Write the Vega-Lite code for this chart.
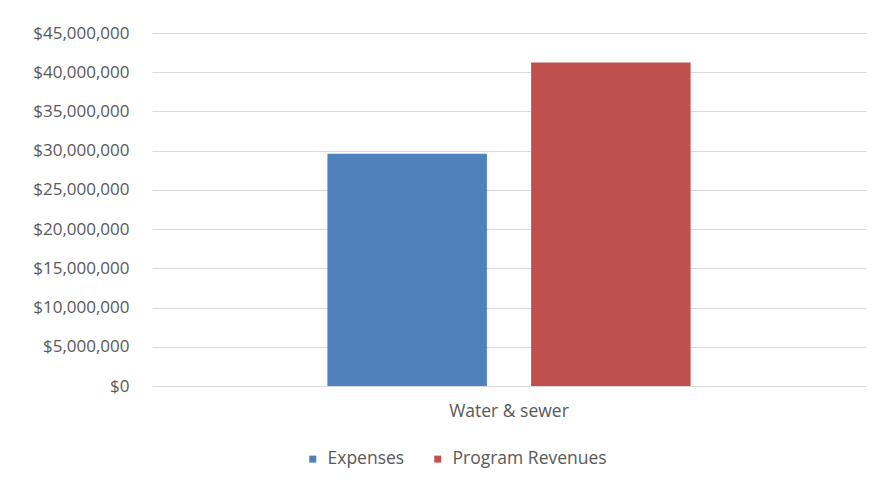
{
  "$schema": "https://vega.github.io/schema/vega-lite/v6.json",
  "width": 714,
  "height": 353,
  "autosize": {"type": "none"},
  "padding": {"left": 152, "top": 33, "right": 17, "bottom": 103},
  "background": "white",
  "config": {
    "view": {"stroke": null},
    "font": "Open Sans",
    "axis": {"labelFont": "Open Sans", "labelColor": "#595959", "labelFontSize": 17},
    "legend": {"labelFont": "Open Sans", "labelColor": "#595959", "labelFontSize": 17.5}
  },
  "data": {
    "values": [
      {"category": "Water & sewer", "series": "Expenses", "amount": 29600000},
      {"category": "Water & sewer", "series": "Program Revenues", "amount": 41250000}
    ]
  },
  "mark": {"type": "bar", "cornerRadius": 0},
  "encoding": {
    "x": {
      "field": "category",
      "type": "nominal",
      "title": null,
      "scale": {"paddingInner": 0, "paddingOuter": 0.483},
      "axis": {"labelAngle": 0, "domain": false, "ticks": false, "labelPadding": 16, "grid": false, "labelFontSize": 17.5}
    },
    "xOffset": {
      "field": "series",
      "type": "nominal",
      "scale": {"paddingInner": 0.217, "paddingOuter": 0}
    },
    "y": {
      "field": "amount",
      "type": "quantitative",
      "title": null,
      "scale": {"domain": [0, 45000000], "nice": false},
      "axis": {
        "values": [0, 5000000, 10000000, 15000000, 20000000, 25000000, 30000000, 35000000, 40000000, 45000000],
        "format": "$,.0f",
        "domain": false,
        "ticks": false,
        "labelPadding": 23,
        "gridColor": "#d9d9d9",
        "gridWidth": 1
      }
    },
    "color": {
      "field": "series",
      "type": "nominal",
      "title": null,
      "scale": {"domain": ["Expenses", "Program Revenues"], "range": ["#4F81BD", "#C0504D"]},
      "legend": {
        "orient": "none",
        "direction": "horizontal",
        "legendX": 152,
        "legendY": 417,
        "padding": 0,
        "symbolType": "square",
        "symbolSize": 49,
        "symbolStrokeWidth": 0,
        "labelOffset": 6,
        "columnPadding": 24
      }
    }
  }
}
